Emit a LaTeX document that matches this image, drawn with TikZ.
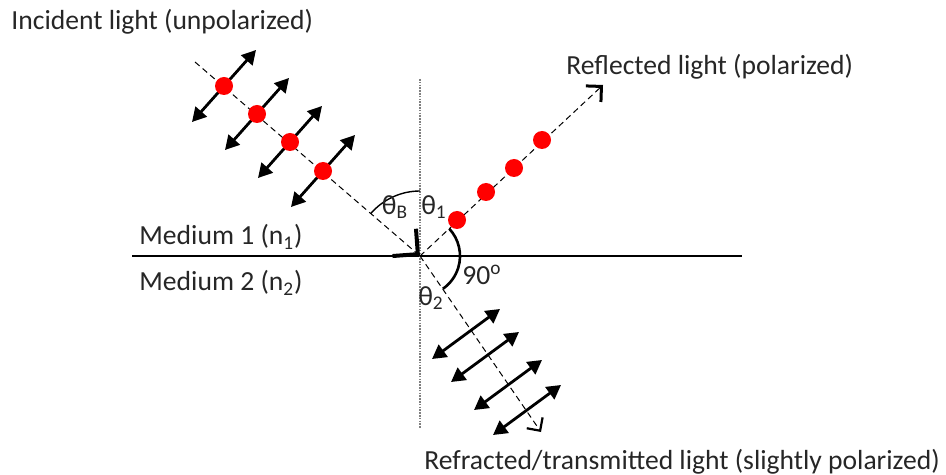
\documentclass[tikz,border=0pt]{standalone}
\usepackage{fontspec}
\setmainfont{Carlito}
\usetikzlibrary{arrows.meta}
\tikzset{
	ray/.style={dash pattern=on 3pt off 2pt,line width=0.5pt},
	pol/.style={{Triangle[length=7pt,width=7.5pt]}-{Triangle[length=7pt,width=7.5pt]},line width=1.4pt},
	dot/.style={circle,fill=red,inner sep=0pt,minimum size=9pt},
	lbl/.style={inner sep=0pt,text=black!85,font=\fontsize{13.8}{15}\selectfont}
}
\begin{document}
\begin{tikzpicture}[x=0.5pt,y=-0.5pt]
	\useasboundingbox (0,0) rectangle (946,475);
	\coordinate (O) at (420,256);
	\coordinate (src) at (195,62);
	\coordinate (rfl) at (603,85);
	\coordinate (rfr) at (541,432);
	\coordinate (left) at (132,256);
	\coordinate (right) at (742,256);
	\coordinate (top) at (420,79);
	\coordinate (bottom) at (420,428);
	\draw[line width=1pt] (left) -- (right);
	\draw[gray,dash pattern=on 0.8pt off 0.6pt,line width=0.6pt] (top) -- (bottom);
	\draw[ray,-{Straight Barb[length=9pt,width=18pt,line width=2pt]}] (src) -- (O);
	\draw[ray,-{Straight Barb[length=5.5pt,width=11pt,line width=1.5pt]}] (O) -- (rfl);
	\draw[ray,-{Straight Barb[length=4.8pt,width=9.6pt,line width=1.1pt]}] (O) -- (rfr);
	\draw[line width=0.7pt] (O) ++(-139:65) arc[start angle=-139,end angle=-90,radius=65];
	\draw[line width=1.3pt] (O) ++(-43:40) arc[start angle=-43,end angle=55,radius=40];
	\foreach \x/\y [count=\i] in {224/86,257/114,290/142,323/171}{
		\coordinate (i\i) at (\x,\y);
		\draw[pol] (i\i) ++(-32,36) -- ++(64,-72);
		\node[dot] (d\i) at (i\i) {};
	}
	\foreach \x/\y [count=\i] in {457/220,486/192,514/168,542/140}
		\node[dot] (r\i) at (\x,\y) {};
	\foreach \x/\y [count=\i] in {466/334,485/357,508/385,527/410}{
		\coordinate (t\i) at (\x,\y);
		\draw[pol] (t\i) ++(-34,25) -- ++(68,-50);
	}
	\node[lbl,anchor=west] (inclbl) at (11,22) {Incident light (unpolarized)};
	\node[lbl,anchor=west] (refllbl) at (566,67) {Reflected light (polarized)};
	\node[lbl,anchor=west] (refrlbl) at (424,462) {Refracted/transmitted light (slightly polarized)};
	\node[lbl,anchor=west] (med1) at (139,237) {Medium 1 (n\textsubscript{1})};
	\node[lbl,anchor=west] (med2) at (139,283) {Medium 2 (n\textsubscript{2})};
	\node[lbl] (thB) at (395,207) {θ\textsubscript{B}};
	\node[lbl] (th1) at (434,207) {θ\textsubscript{1}};
	\node[lbl] (th2) at (431,298) {θ\textsubscript{2}};
	\node[lbl] (ang) at (482,275) {90\textsuperscript{o}};
\end{tikzpicture}
\end{document}
